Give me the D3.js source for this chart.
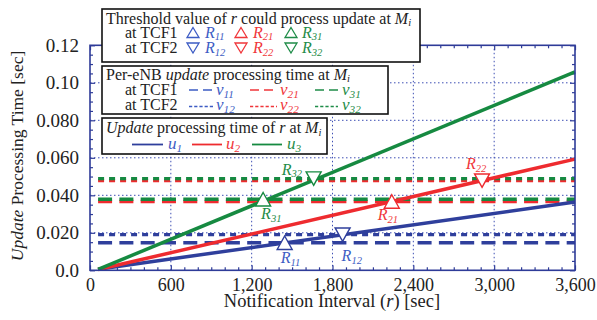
<!DOCTYPE html>
<html>
<head>
<meta charset="utf-8">
<script src="https://cdn.jsdelivr.net/npm/d3@7"></script>
<style>
  body { margin: 0; background: #fff; }
  svg { display: block; }
</style>
</head>
<body>
<div id="chart"></div>
<script>
const width = 597, height = 320;

// notification interval r [sec] at the ends of each line
const rValues = [60, 3600];
// update processing time of r at M_i (u1..u3) [sec]
const u1 = [0.0006, 0.0364];
const u2 = [0.0004, 0.0593];
const u3 = [0.0005, 0.1058];
// per-eNB update processing time (v_i1 at TCF1, v_i2 at TCF2)
const v11 = 0.0147, v12 = 0.0190;
const v21 = 0.0367, v22 = 0.0478;
const v31 = 0.0379, v32 = 0.0489;
// threshold r values (markers)
const R11 = 1445, R12 = 1875;
const R21 = 2240, R22 = 2910;
const R31 = 1285, R32 = 1660;

const xTicks = [0, 600, 1200, 1800, 2400, 3000, 3600];
const yTicks = [0, 0.02, 0.04, 0.06, 0.08, 0.10, 0.12];
const yTickLabels = ["0.0", "0.020", "0.040", "0.060", "0.080", "0.10", "0.12"];

const font = "Liberation Serif";
const blue = "#2f3f9c", red = "#ee2b2f", green = "#168a41";
const blueTxt = "#3d5cc4", redTxt = "#f0363a", greenTxt = "#1f8c48";
const axisCol = "#2e3b98";

const x = d3.scaleLinear().domain([0, 3600]).range([90, 575]);
const y = d3.scaleLinear().domain([0, 0.12]).range([270.3, 45.3]);

const svg = d3.select("#chart").append("svg")
  .attr("width", width).attr("height", height)
  .attr("viewBox", `0 0 ${width} ${height}`)
  .attr("font-family", font);

// grid
const grid = svg.append("g").attr("stroke", "#3e4fb4").attr("stroke-width", 1)
  .attr("stroke-dasharray", "1.5,2.5").attr("fill", "none");
grid.selectAll("line.gx").data(xTicks.slice(1, -1)).join("line")
  .attr("x1", d => x(d)).attr("x2", d => x(d)).attr("y1", y(0)).attr("y2", y(0.12));
grid.selectAll("line.gy").data(yTicks.slice(1, -1)).join("line")
  .attr("y1", d => y(d)).attr("y2", d => y(d)).attr("x1", x(0)).attr("x2", x(3600));

// axes (ticks inward, all four sides)
const xMinor = d3.range(0, 3601, 100).filter(d => d % 600);
const yMinor = d3.range(0, 25).map(i => i * 0.005).filter((d, i) => i % 4);

function styleAxis(size) {
  return g => {
    g.select(".domain").remove();
    g.selectAll(".tick line").attr("stroke", axisCol).attr("stroke-width", 1.2);
    g.selectAll(".tick text").attr("fill", "#222").attr("font-size", size)
      .attr("font-family", font);
  };
}

svg.append("g").attr("transform", `translate(0,${y(0)})`)
  .call(d3.axisBottom(x).tickValues(xTicks).tickSize(-5).tickPadding(7.5).tickFormat(d3.format(",")))
  .call(styleAxis(18));
svg.append("g").attr("transform", `translate(0,${y(0)})`)
  .call(d3.axisBottom(x).tickValues(xMinor).tickSize(-3).tickFormat(""))
  .call(styleAxis(18));
svg.append("g").attr("transform", `translate(0,${y(0.12)})`)
  .call(d3.axisTop(x).tickValues(xTicks).tickSize(-5).tickFormat(""))
  .call(styleAxis(18));
svg.append("g").attr("transform", `translate(0,${y(0.12)})`)
  .call(d3.axisTop(x).tickValues(xMinor).tickSize(-3).tickFormat(""))
  .call(styleAxis(18));
svg.append("g").attr("transform", `translate(${x(0)},0)`)
  .call(d3.axisLeft(y).tickValues(yTicks).tickSize(-5).tickPadding(11).tickFormat((d, i) => yTickLabels[i]))
  .call(styleAxis(19));
svg.append("g").attr("transform", `translate(${x(0)},0)`)
  .call(d3.axisLeft(y).tickValues(yMinor).tickSize(-3).tickFormat(""))
  .call(styleAxis(19));
svg.append("g").attr("transform", `translate(${x(3600)},0)`)
  .call(d3.axisRight(y).tickValues(yTicks).tickSize(-5).tickFormat(""))
  .call(styleAxis(19));
svg.append("g").attr("transform", `translate(${x(3600)},0)`)
  .call(d3.axisRight(y).tickValues(yMinor).tickSize(-3).tickFormat(""))
  .call(styleAxis(19));

// horizontal v lines
const vLines = [
  { v: v11, c: blue, dash: "14,7.3" },
  { v: v12, c: blue, dash: "6,5" },
  { v: v21, c: red, dash: "14,7.3" },
  { v: v22, c: red, dash: "6,5" },
  { v: v31, c: green, dash: "14,7.3" },
  { v: v32, c: green, dash: "6,5" }
];
svg.append("g").selectAll("line").data(vLines).join("line")
  .attr("x1", x(rValues[0])).attr("x2", x(rValues[1]))
  .attr("y1", d => y(d.v)).attr("y2", d => y(d.v))
  .attr("stroke", d => d.c).attr("stroke-width", 3.3)
  .attr("stroke-dasharray", d => d.dash);

// u lines
const line = d3.line().x((d, i) => x(rValues[i])).y(d => y(d));
svg.append("g").selectAll("path").data([[u1, blue], [u2, red], [u3, green]]).join("path")
  .attr("d", d => line(d[0])).attr("fill", "none")
  .attr("stroke", d => d[1]).attr("stroke-width", 3.5);

// frame
svg.append("rect").attr("x", x(0)).attr("y", y(0.12))
  .attr("width", x(3600) - x(0)).attr("height", y(0) - y(0.12))
  .attr("fill", "none").attr("stroke", axisCol).attr("stroke-width", 1.6);

// triangle helper
function tri(g, cx, cy, w, h, up, col, sw) {
  const p = up
    ? `M${cx},${cy - h / 2}L${cx + w / 2},${cy + h / 2}L${cx - w / 2},${cy + h / 2}Z`
    : `M${cx},${cy + h / 2}L${cx + w / 2},${cy - h / 2}L${cx - w / 2},${cy - h / 2}Z`;
  g.append("path").attr("d", p).attr("fill", "#fff").attr("stroke", col).attr("stroke-width", sw);
}

// rich text helper: segments [text, italic, sub]
function rich(g, tx, ty, segs, size, col) {
  const t = g.append("text").attr("x", tx).attr("y", ty).attr("font-size", size).attr("fill", col || "#222");
  const shift = size * 0.18;
  let shifted = false;
  segs.forEach(([s, it, sub]) => {
    const ts = t.append("tspan").text(s).attr("font-style", it ? "italic" : "normal");
    if (sub) { ts.attr("font-size", size * 0.66).attr("dy", shifted ? 0 : shift); shifted = true; }
    else if (shifted) { ts.attr("dy", -shift); shifted = false; }
  });
  return t;
}

// markers
const markers = [
  { r: R11, v: v11, up: true, c: blue, tc: blueTxt, n: "11", dx: -4, dy: 20 },
  { r: R12, v: v12, up: false, c: blue, tc: blueTxt, n: "12", dx: -1, dy: 26 },
  { r: R21, v: v21, up: true, c: red, tc: redTxt, n: "21", dx: -14, dy: 19 },
  { r: R22, v: v22, up: false, c: red, tc: redTxt, n: "22", dx: -16, dy: -12 },
  { r: R31, v: v31, up: true, c: green, tc: greenTxt, n: "31", dx: -2, dy: 20 },
  { r: R32, v: v32, up: false, c: green, tc: greenTxt, n: "32", dx: -32, dy: -4 }
];
const mg = svg.append("g");
markers.forEach(m => {
  tri(mg, x(m.r), y(m.v), 15, 13.5, m.up, m.c, 1.4);
  rich(mg, x(m.r) + m.dx, y(m.v) + m.dy, [["R", true], [m.n, true, true]], 16, m.tc);
});

// legends
const lg = svg.append("g");
function box(bx, by, bw, bh) {
  lg.append("rect").attr("x", bx).attr("y", by).attr("width", bw).attr("height", bh)
    .attr("fill", "#fff").attr("stroke", "#111").attr("stroke-width", 1.6);
}
const fs = 16;
const cols = [[blueTxt, blue], [redTxt, red], [greenTxt, green]];

box(102, 9, 318, 53);
rich(lg, 106, 23.5, [["Threshold value of "], ["r", true], [" could process update at "], ["M", true], ["i", true, true]], fs);
rich(lg, 125, 37.5, [["at TCF1"]], fs);
rich(lg, 125, 53, [["at TCF2"]], fs);
[[193, 205], [241, 253], [291, 302]].forEach(([tx, lx], i) => {
  tri(lg, tx, 32.5, 12, 10, true, cols[i][0], 1.3);
  tri(lg, tx, 48, 12, 10, false, cols[i][0], 1.3);
  rich(lg, lx, 37.5, [["R", true], [`${i + 1}1`, true, true]], fs, cols[i][0]);
  rich(lg, lx, 53, [["R", true], [`${i + 1}2`, true, true]], fs, cols[i][0]);
});

box(102, 66, 286, 48);
rich(lg, 106, 79.5, [["Per-eNB "], ["update", true], [" processing time at "], ["M", true], ["i", true, true]], fs);
rich(lg, 125, 95, [["at TCF1"]], fs);
rich(lg, 125, 110, [["at TCF2"]], fs);
[[189, 213, 216], [250, 277, 280], [315, 338, 342]].forEach(([a, b, lx], i) => {
  lg.append("line").attr("x1", a).attr("x2", b).attr("y1", 90).attr("y2", 90)
    .attr("stroke", cols[i][0]).attr("stroke-width", 1.5).attr("stroke-dasharray", "9,5");
  lg.append("line").attr("x1", a).attr("x2", b).attr("y1", 106.5).attr("y2", 106.5)
    .attr("stroke", cols[i][0]).attr("stroke-width", 1.5).attr("stroke-dasharray", "3.2,2");
  rich(lg, lx, 95, [["v", true], [`${i + 1}1`, true, true]], fs + 1, cols[i][0]);
  rich(lg, lx, 110, [["v", true], [`${i + 1}2`, true, true]], fs + 1, cols[i][0]);
});

box(102, 118, 225, 36);
rich(lg, 106, 133, [["Update", true], [" processing time of "], ["r", true], [" at "], ["M", true], ["i", true, true]], fs);
[[132, 163, 168], [192, 222, 226], [252, 282, 287]].forEach(([a, b, lx], i) => {
  lg.append("line").attr("x1", a).attr("x2", b).attr("y1", 144.5).attr("y2", 144.5)
    .attr("stroke", cols[i][1]).attr("stroke-width", 1.8);
  rich(lg, lx, 148.5, [["u", true], [`${i + 1}`, true, true]], fs + 1, cols[i][0]);
});

// axis titles
rich(svg, 0, 0, [["Update", true], [" Processing Time [sec]"]], 17.5)
  .attr("text-anchor", "middle").attr("transform", "translate(23,156) rotate(-90)");
rich(svg, 332, 306.5, [["Notification Interval ("], ["r", true], [") [sec]"]], 18.5)
  .attr("text-anchor", "middle");
</script>
</body>
</html>
